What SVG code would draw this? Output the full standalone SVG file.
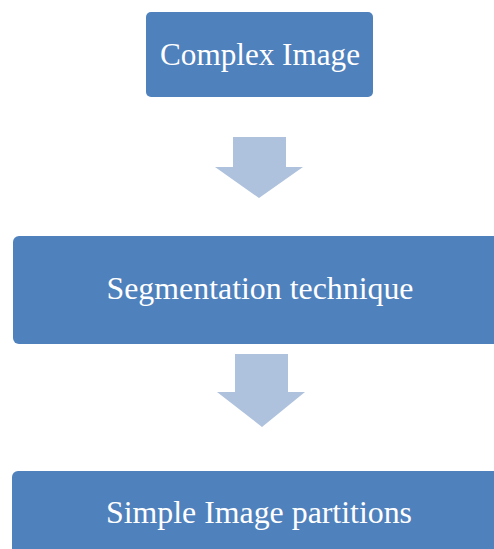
<svg xmlns="http://www.w3.org/2000/svg" width="494" height="549" viewBox="0 0 494 549">
<style>
.box{fill:#4F81BD;}
.arr{fill:#AFC2DD;}
.lbl{font-family:"Liberation Serif","Times New Roman",serif;font-size:32px;fill:#FFFFFF;text-anchor:middle;}
</style>
<rect width="494" height="549" fill="#FFFFFF"/>
<g id="node-complex">
<rect class="box" x="146" y="12" width="227" height="85" rx="5"/>
<text class="lbl" x="260" y="65" textLength="200" lengthAdjust="spacingAndGlyphs">Complex Image</text>
</g>
<g id="node-segmentation">
<rect class="box" x="13" y="236" width="500" height="108" rx="6"/>
<text class="lbl" x="260" y="299" textLength="307" lengthAdjust="spacingAndGlyphs">Segmentation technique</text>
</g>
<g id="node-simple">
<rect class="box" x="12" y="471" width="500" height="100" rx="6"/>
<text class="lbl" x="259" y="523" textLength="306" lengthAdjust="spacingAndGlyphs">Simple Image partitions</text>
</g>
<g id="connectors">
<polygon class="arr" points="233,137 286,137 286,167 303,167 259,198 215,167 233,167"/>
<polygon class="arr" points="235,354 288,354 288,392 305,392 262,427 217,392 235,392"/>
</g>
</svg>
